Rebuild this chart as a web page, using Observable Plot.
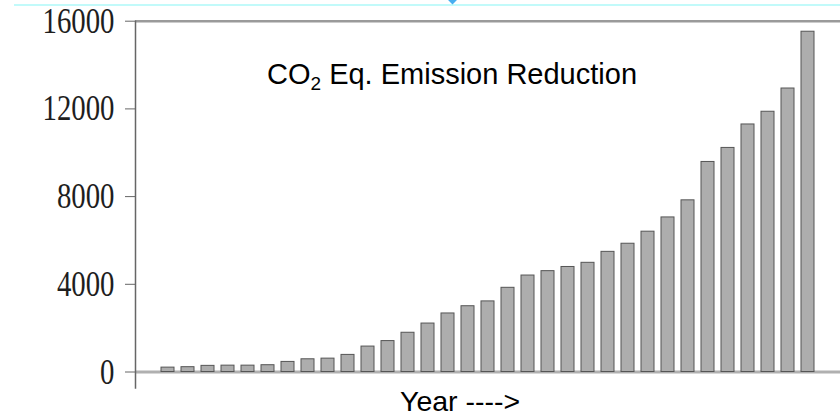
<!DOCTYPE html>
<html>
<head>
<meta charset="utf-8">
<script src="https://cdn.jsdelivr.net/npm/d3@7"></script>
<script src="https://cdn.jsdelivr.net/npm/@observablehq/plot@0.6"></script>
<style>
  html, body { margin: 0; padding: 0; background: #fff; }
  #wrap { position: relative; width: 840px; height: 417px; overflow: hidden; font-family: "Liberation Sans", Arial, sans-serif; }
  #wrap svg { position: absolute; left: 0; top: 0; display: block; }
  #cyan { position: absolute; left: 14px; top: 4px; width: 826px; height: 2px; background: #c2fafa; }
  #diamond { position: absolute; left: 449px; top: -4px; width: 7px; height: 7px; background: #47aef0; transform: rotate(45deg); }
  #title { position: absolute; left: 267px; top: 60px; font-size: 29px; line-height: 1; color: #000; white-space: nowrap; }
  #title sub { font-size: 19px; vertical-align: baseline; position: relative; top: 6px; }
  #xlabel { position: absolute; left: 400px; top: 387px; font-size: 28.5px; line-height: 1; color: #000; white-space: nowrap; }
</style>
</head>
<body>
<div id="wrap">
  <div id="cyan"></div>
  <div id="diamond"></div>
  <div id="title">CO<sub>2</sub> Eq. Emission Reduction</div>
  <div id="xlabel">Year ----&gt;</div>
</div>
<script>
// Categories (successive years, unlabeled in the source)
const periods = ["1","2","3","4","5","6","7","8","9","10","11","12","13","14","15","16","17",
                 "18","19","20","21","22","23","24","25","26","27","28","29","30","31","32","33"];
// CO2 eq. emission reduction per year
const reductions = [200, 220, 280, 290, 290, 310, 460, 580, 610, 780, 1160, 1410, 1790, 2210, 2670, 3000, 3220,
                    3840, 4400, 4600, 4790, 4980, 5480, 5850, 6400, 7050, 7830, 9580, 10220, 11290, 11870, 12930, 15520];
// Y axis tick labels
const yTicks = [0, 4000, 8000, 12000, 16000];

const data = periods.map((p, i) => ({period: p, value: reductions[i]}));

const svg = Plot.plot({
  width: 840,
  height: 417,
  marginTop: 20.7,
  marginBottom: 45.5,
  marginLeft: 135,
  marginRight: 0,
  style: {background: "transparent", overflow: "visible"},
  x: {domain: periods, paddingInner: 0.35, paddingOuter: 0.54, axis: null},
  y: {domain: [0, 16000], axis: null},
  marks: [
    Plot.ruleY([16000], {stroke: "#9a9a9a", strokeWidth: 2.5}),
    Plot.ruleY([0], {stroke: "#b0b0b0", strokeWidth: 3}),
    Plot.barY(data, {x: "period", y: "value", fill: "#adadad", stroke: "#555", strokeWidth: 1}),
    Plot.axisY({
      ticks: yTicks,
      tickFormat: d => String(d),
      tickSize: 10,
      tickPadding: 11,
      fontSize: 36,
      fontFamily: "Liberation Serif, Times New Roman, serif",
      stroke: "#666",
      fill: "#1e1e1e",
      label: null
    }),
    Plot.frame({anchor: "left", stroke: "#666", strokeWidth: 1.5, insetBottom: -16})
  ]
});

document.getElementById("wrap").prepend(svg);

// condense the serif tick labels horizontally, as in the scanned original
d3.select(svg).selectAll('g[aria-label="y-axis tick label"] text').each(function() {
  const t = this.getAttribute("transform");
  if (t) this.setAttribute("transform", t + " scale(0.8,1)");
});
</script>
</body>
</html>
